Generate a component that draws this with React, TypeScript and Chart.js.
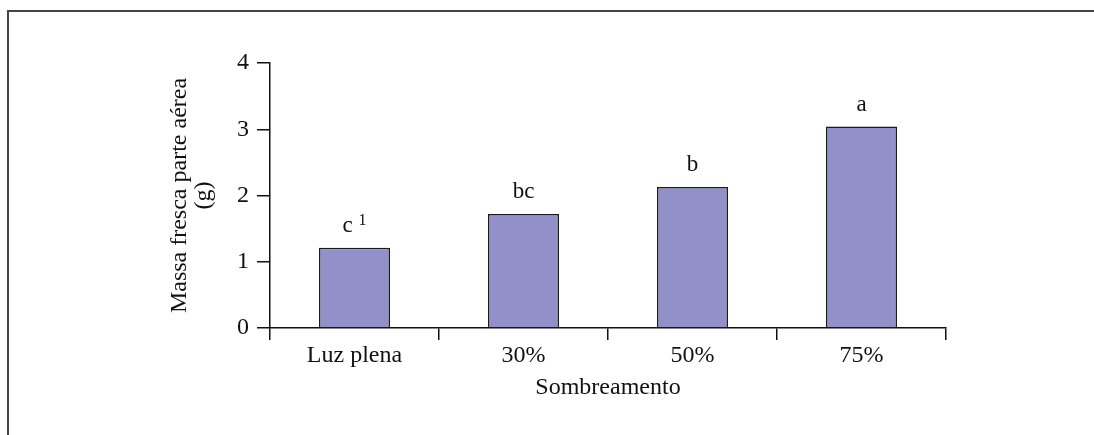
import React, { useEffect, useRef } from "react";
import { Chart, registerables } from "chart.js";

Chart.register(...registerables);

const categories = ["Luz plena", "30%", "50%", "75%"];
const values = [1.21, 1.72, 2.13, 3.04];
const letters = ["c", "bc", "b", "a"];
const superscripts = ["1", "", "", ""];
const yTicks = [0, 1, 2, 3, 4];
const yTitle = ["Massa fresca parte aérea", "(g)"];
const xTitle = "Sombreamento";

const FONT = '"Liberation Serif", "Times New Roman", serif';

const framePlugin = {
  id: "frame",
  beforeDraw(chart: any) {
    const ctx = chart.ctx;
    ctx.save();
    ctx.strokeStyle = "#444";
    ctx.lineWidth = 2;
    ctx.beginPath();
    ctx.moveTo(8, chart.height + 2);
    ctx.lineTo(8, 11);
    ctx.lineTo(chart.width + 2, 11);
    ctx.stroke();
    ctx.restore();
  },
};

const lettersPlugin = {
  id: "letters",
  afterDatasetsDraw(chart: any) {
    const ctx = chart.ctx;
    const meta = chart.getDatasetMeta(0);
    ctx.save();
    ctx.fillStyle = "#111";
    ctx.textBaseline = "alphabetic";
    ctx.textAlign = "left";
    meta.data.forEach((bar: any, i: number) => {
      const main = letters[i];
      const sup = superscripts[i];
      ctx.font = `23px ${FONT}`;
      const w1 = ctx.measureText(main).width;
      ctx.font = `16px ${FONT}`;
      const gap = sup ? 6 : 0;
      const w2 = sup ? ctx.measureText(sup).width : 0;
      const total = w1 + gap + w2;
      const x0 = bar.x - total / 2;
      const yb = bar.y - 16;
      ctx.font = `23px ${FONT}`;
      ctx.fillText(main, x0, yb);
      if (sup) {
        ctx.font = `16px ${FONT}`;
        ctx.fillText(sup, x0 + w1 + gap, yb - 7);
      }
    });
    ctx.restore();
  },
};

export default function App() {
  const ref = useRef<HTMLCanvasElement | null>(null);

  useEffect(() => {
    document.body.style.margin = "0";
    if (!ref.current) return;
    const chart = new Chart(ref.current, {
      type: "bar",
      data: {
        labels: categories,
        datasets: [
          {
            data: values,
            backgroundColor: "#9190c8",
            borderColor: "#1a1a1a",
            borderWidth: 1.5,
            barPercentage: 0.42,
            categoryPercentage: 1,
          },
        ],
      },
      options: {
        animation: false,
        responsive: true,
        maintainAspectRatio: false,
        layout: { padding: { left: 168, right: 148, top: 63, bottom: 35 } },
        plugins: {
          legend: { display: false },
          tooltip: { enabled: false },
          title: { display: false },
        },
        scales: {
          x: {
            offset: true,
            grid: {
              offset: true,
              drawOnChartArea: false,
              drawTicks: true,
              tickLength: 12,
              color: "#111",
              lineWidth: 1.5,
            },
            border: { display: true, color: "#111", width: 1.5 },
            ticks: {
              color: "#111",
              font: { family: FONT, size: 24 },
              padding: 1,
              maxRotation: 0,
            },
            title: {
              display: true,
              text: xTitle,
              color: "#111",
              font: { family: FONT, size: 24, lineHeight: 1.0 },
              padding: 0,
            },
            afterFit(scale: any) {
              scale.height = 72;
            },
          },
          y: {
            min: 0,
            max: 4,
            afterBuildTicks(scale: any) {
              scale.ticks = yTicks.map((v) => ({ value: v }));
            },
            grid: {
              drawOnChartArea: false,
              drawTicks: true,
              tickLength: 13,
              color: "#111",
              lineWidth: 1.5,
            },
            border: { display: true, color: "#111", width: 1.5 },
            ticks: {
              color: "#111",
              font: { family: FONT, size: 24 },
              padding: 8,
            },
            title: {
              display: true,
              text: yTitle,
              color: "#111",
              font: { family: FONT, size: 24, lineHeight: 1.0 },
              padding: 0,
            },
            afterFit(scale: any) {
              scale.width = 102;
            },
          },
        },
      },
      plugins: [framePlugin, lettersPlugin],
    });
    return () => chart.destroy();
  }, []);

  return (
    <div style={{ width: 1094, height: 435, position: "relative" }}>
      <canvas ref={ref} />
    </div>
  );
}
